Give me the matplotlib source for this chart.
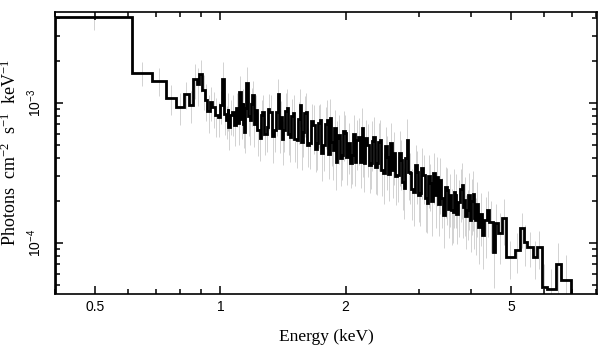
import numpy as np
import matplotlib
matplotlib.use("Agg")
import matplotlib.pyplot as plt
from matplotlib.ticker import FixedLocator, FixedFormatter, NullFormatter, LogLocator, LogFormatterSciNotation

plt.rcParams['font.family'] = 'Liberation Sans'

# bin edges (keV)
edges = [0.400, 0.614, 0.686, 0.741, 0.783, 0.815, 0.842, 0.861, 0.880, 0.890, 0.905, 0.920,
         # dense part, 0.93 - 4.37 keV
         0.930, 0.943, 0.957, 0.970, 0.984, 0.997, 1.011, 1.022, 1.034, 1.040,
         1.045, 1.057, 1.069, 1.081, 1.093, 1.102, 1.111, 1.120, 1.130, 1.136,
         1.142, 1.148, 1.155, 1.165, 1.175, 1.184, 1.194, 1.201, 1.208, 1.225,
         1.242, 1.252, 1.262, 1.276, 1.291, 1.301, 1.312, 1.330, 1.349, 1.360,
         1.372, 1.383, 1.395, 1.406, 1.418, 1.430, 1.442, 1.454, 1.466, 1.478,
         1.491, 1.507, 1.524, 1.537, 1.550, 1.563, 1.576, 1.589, 1.602, 1.615,
         1.629, 1.647, 1.666, 1.684, 1.703, 1.717, 1.732, 1.746, 1.761, 1.780,
         1.800, 1.815, 1.830, 1.845, 1.861, 1.876, 1.892, 1.902, 1.913, 1.934,
         1.956, 1.972, 1.989, 2.006, 2.023, 2.045, 2.068, 2.085, 2.103, 2.120,
         2.138, 2.162, 2.186, 2.198, 2.210, 2.228, 2.247, 2.272, 2.298, 2.310,
         2.323, 2.349, 2.375, 2.395, 2.415, 2.435, 2.456, 2.483, 2.511, 2.532,
         2.553, 2.581, 2.610, 2.632, 2.654, 2.684, 2.714, 2.736, 2.759, 2.782,
         2.805, 2.828, 2.852, 2.876, 2.900, 2.932, 2.965, 2.990, 3.015, 3.040,
         3.066, 3.100, 3.135, 3.161, 3.187, 3.214, 3.241, 3.277, 3.313, 3.341,
         3.369, 3.397, 3.425, 3.463, 3.502, 3.531, 3.561, 3.591, 3.621, 3.641,
         3.661, 3.692, 3.723, 3.764, 3.806, 3.827, 3.849, 3.881, 3.913, 3.946,
         3.979, 4.012, 4.046, 4.068, 4.091, 4.125, 4.159, 4.206, 4.253, 4.312,
         # high-energy tail
         4.372, 4.421, 4.520, 4.571, 4.647, 4.752, 4.858, 5.106, 5.250, 5.368,
         5.458, 5.643, 5.769, 5.932, 6.098, 6.411, 6.591, 6.967]

# flux per bin, in 1e-4 photons cm^-2 s^-1 keV^-1
flux_low = [41.1, 16.4, 14.4, 10.8, 9.32, 11.6, 9.63, 14.8, 13.6, 16.0, 12.3, 10.5]
flux_mid = [8.72, 10.2, 9.32, 8.2, 7.90, 9.6, 14.8, 8.3, 7.52, 9.0,
            6.71, 8.2, 8.58, 6.9, 9.17, 7.2, 11.9, 7.6, 9.95, 7.0,
            6.18, 9.2, 13.8, 8.0, 7.52, 9.8, 11.35, 7.1, 8.87, 6.4,
            5.60, 8.2, 8.58, 6.0, 6.71, 9.0, 8.58, 5.8, 6.38, 8.6,
            11.5, 6.6, 7.90, 5.5, 6.38, 8.8, 9.17, 6.0, 5.69, 8.0,
            8.44, 5.5, 5.42, 7.6, 9.63, 5.2, 6.18, 8.4, 8.58, 5.0,
            5.15, 7.4, 6.93, 4.7, 5.15, 7.2, 7.52, 4.4, 4.99, 7.0,
            7.52, 4.3, 7.78, 5.2, 4.59, 6.6, 3.77, 5.6, 5.88, 4.0,
            4.23, 6.3, 6.08, 4.1, 5.15, 3.7, 4.23, 6.0, 3.77, 5.4,
            5.69, 3.8, 6.60, 4.6, 3.71, 5.6, 4.99, 3.6, 3.71, 5.3,
            5.69, 3.5, 3.71, 5.2, 5.42, 3.3, 3.15, 4.9, 4.09, 3.1,
            5.15, 3.3, 4.37, 3.0, 3.05, 4.4, 3.90, 2.7, 2.46, 4.0,
            5.42, 3.2, 3.15, 2.4, 2.30, 3.6, 3.20, 2.2, 2.26, 3.4,
            3.05, 2.1, 1.92, 3.0, 2.67, 2.0, 3.15, 2.2, 2.95, 1.9,
            2.81, 2.1, 1.58, 2.5, 2.38, 1.75, 2.19, 1.7, 1.66, 2.3,
            2.19, 1.6, 1.95, 2.4, 2.58, 1.8, 2.02, 1.55, 1.71, 2.2,
            1.45, 2.0, 2.23, 1.5, 1.45, 1.9, 1.29, 1.6, 1.135, 1.45]
flux_high = [1.71, 1.41, 0.858, 1.38, 1.17, 1.50, 0.790, 0.887, 1.27, 1.01,
             0.932, 0.790, 0.932, 0.483, 0.467, 0.705, 0.542]

# relative 1-sigma errors (grey bars)
err_low = [0.20, 0.20, 0.22, 0.24, 0.25, 0.22, 0.26, 0.28, 0.30, 0.26, 0.28, 0.30]
err_mid = [0.30, 0.27, 0.29, 0.31, 0.28, 0.26, 0.32, 0.29, 0.27, 0.30,
           0.31, 0.28, 0.33, 0.29, 0.27, 0.31, 0.30, 0.28, 0.26, 0.32,
           0.29, 0.33, 0.31, 0.28, 0.34, 0.30, 0.27, 0.32, 0.29, 0.35,
           0.31, 0.28, 0.33, 0.30, 0.34, 0.29, 0.32, 0.36, 0.30, 0.33,
           0.28, 0.34, 0.31, 0.35, 0.30, 0.33, 0.36, 0.29, 0.34, 0.32,
           0.35, 0.31, 0.37, 0.33, 0.30, 0.36, 0.34, 0.32, 0.37, 0.31,
           0.35, 0.33, 0.38, 0.32, 0.36, 0.34, 0.31, 0.37, 0.35, 0.33,
           0.38, 0.34, 0.36, 0.32, 0.39, 0.35, 0.37, 0.33, 0.38, 0.36,
           0.34, 0.39, 0.35, 0.37, 0.40, 0.34, 0.38, 0.36, 0.33, 0.39,
           0.37, 0.35, 0.40, 0.36, 0.38, 0.34, 0.41, 0.37, 0.35, 0.39,
           0.38, 0.36, 0.41, 0.37, 0.39, 0.35, 0.40, 0.38, 0.42, 0.36,
           0.39, 0.37, 0.41, 0.38, 0.36, 0.42, 0.39, 0.37, 0.40, 0.38,
           0.42, 0.37, 0.40, 0.39, 0.43, 0.38, 0.41, 0.36, 0.42, 0.40,
           0.38, 0.43, 0.39, 0.41, 0.37, 0.44, 0.40, 0.42, 0.38, 0.41,
           0.43, 0.39, 0.42, 0.40, 0.44, 0.38, 0.41, 0.43, 0.40, 0.45,
           0.42, 0.39, 0.44, 0.41, 0.43, 0.40, 0.45, 0.42, 0.39, 0.44,
           0.41, 0.43, 0.46, 0.40, 0.44, 0.42, 0.45, 0.41, 0.43, 0.46]
err_high = [0.36, 0.40, 0.45, 0.38, 0.40, 0.36, 0.30, 0.32, 0.28, 0.32,
            0.28, 0.30, 0.30, 0.45, 0.40, 0.40, 0.50]

edges = np.array(edges)
flux = np.concatenate([flux_low, flux_mid, flux_high]) * 1e-4
rel_err = np.concatenate([err_low, err_mid, err_high])
assert len(edges) == len(flux) + 1 == len(rel_err) + 1, (len(edges), len(flux), len(rel_err))
err = flux * rel_err
centers = np.sqrt(edges[:-1] * edges[1:])

fig = plt.figure(figsize=(6.08, 3.57), dpi=100)
ax = fig.add_axes([55/608, 63/357, 542/608, 282/357])

ax.vlines(centers, flux - err, flux + err, color='#d2d2d2', lw=0.7, zorder=1)
ax.stairs(flux, edges, baseline=1e-6, color='k', lw=2.0, zorder=2)

ax.set_xscale('log')
ax.set_yscale('log')
ax.set_xlim(0.4, 8.05)
ax.set_ylim(4.3e-5, 4.45e-3)

ax.xaxis.set_major_locator(FixedLocator([0.5, 1, 2, 5]))
ax.xaxis.set_major_formatter(FixedFormatter(['0.5', '1', '2', '5']))
ax.xaxis.set_minor_locator(FixedLocator([0.4, 0.6, 0.7, 0.8, 0.9, 3, 4, 6, 7, 8]))
ax.xaxis.set_minor_formatter(NullFormatter())
ax.yaxis.set_major_locator(LogLocator(base=10))
ax.yaxis.set_major_formatter(LogFormatterSciNotation())
ax.yaxis.set_minor_locator(LogLocator(base=10, subs=np.arange(2, 10)))
ax.yaxis.set_minor_formatter(NullFormatter())

ax.tick_params(which='both', direction='in', top=True, right=True, width=1.1, labelsize=10)
ax.tick_params(axis='x', pad=4)
ax.tick_params(axis='y', pad=8)
ax.tick_params(which='major', length=5.5)
ax.tick_params(which='minor', length=3.5)
for lab in ax.get_yticklabels():
    lab.set_rotation(90)
    lab.set_va('center')
for s in ax.spines.values():
    s.set_linewidth(1.2)

ax.set_xlabel('Energy (keV)', family='Liberation Serif', fontsize=12.5, labelpad=11)
ax.set_ylabel(r'Photons  cm$\mathdefault{^{-2}}$  s$\mathdefault{^{-1}}$  keV$\mathdefault{^{-1}}$',
              family='Liberation Serif', fontsize=13, labelpad=4)

fig.savefig('out.png', dpi=100)
